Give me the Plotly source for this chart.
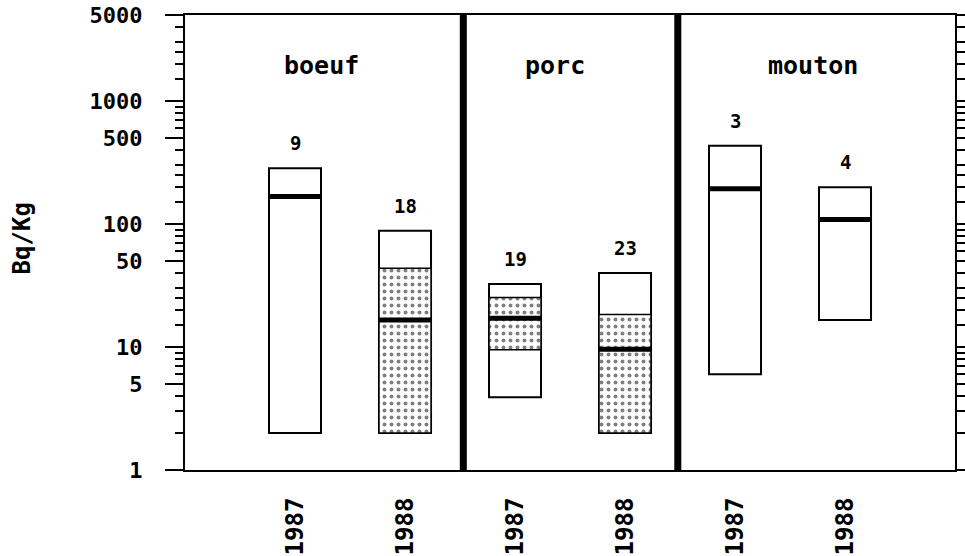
import numpy as np
import plotly.graph_objects as go

# Activity in meat (Bq/Kg), by species and year
groups = ["boeuf", "porc", "mouton"]
years = ["1987", "1988", "1987", "1988", "1987", "1988"]
counts = [9, 18, 19, 23, 3, 4]
v_min = [2.0, 2.0, 3.9, 2.0, 6.0, 16.6]
v_max = [284, 88, 32.5, 40, 433, 199]
v_median = [167, 16.6, 17.1, 9.6, 193, 109]
# dotted band (None where no band is drawn)
band_lo = [None, 2.0, 9.5, 2.0, None, None]
band_hi = [None, 43.6, 25.2, 18.4, None, None]

major_ticks = [1, 5, 10, 50, 100, 500, 1000, 5000]
minor_ticks = [2, 3, 4, 6, 7, 8, 9, 15, 20, 25, 30, 40, 60, 70, 80, 90,
               150, 200, 250, 300, 400, 600, 700, 800, 900,
               1500, 2000, 2500, 3000, 4000]

FONT = "DejaVu Sans Mono"
pos = list(range(len(years)))
bw = 0.473

fig = go.Figure()

# full range boxes
fig.add_trace(go.Bar(
    x=pos, base=v_min, y=[hi - lo for hi, lo in zip(v_max, v_min)],
    width=bw, marker=dict(color="white", line=dict(color="black", width=2)),
    hoverinfo="skip", showlegend=False))

# dotted bands
bx, bbase, by = [], [], []
for p, lo, hi in zip(pos, band_lo, band_hi):
    if lo is not None:
        bx.append(p); bbase.append(lo); by.append(hi - lo)
fig.add_trace(go.Bar(
    x=bx, base=bbase, y=by, width=bw,
    marker=dict(color="white", line=dict(color="black", width=1.5),
                pattern=dict(shape=".", fgcolor="black", bgcolor="white",
                             size=7, solidity=0.25)),
    hoverinfo="skip", showlegend=False))

# median bars
mx, my = [], []
for p, m in zip(pos, v_median):
    mx += [p - bw / 2, p + bw / 2, None]
    my += [m, m, None]
fig.add_trace(go.Scatter(x=mx, y=my, mode="lines",
                         line=dict(color="black", width=5),
                         hoverinfo="skip", showlegend=False))

# invisible trace for the right-hand axis
fig.add_trace(go.Scatter(x=[0], y=[1], yaxis="y2", mode="markers",
                         marker=dict(opacity=0), hoverinfo="skip",
                         showlegend=False))

# counts above each box
for p, n, hi in zip(pos, counts, v_max):
    fig.add_annotation(x=p, y=np.log10(hi), text=str(n), showarrow=False,
                       yshift=25, font=dict(family=FONT, size=19, color="black",
                                            weight="bold"))

# group titles
for gx, g in zip([0.245, 2.36, 4.71], groups):
    fig.add_annotation(x=gx, y=0.89, yref="paper", yanchor="middle",
                       text=g, showarrow=False,
                       font=dict(family=FONT, size=25, color="black",
                                 weight="bold"))

# y-axis title
fig.add_annotation(x=-0.2117, y=0.509, xref="paper", yref="paper",
                   xanchor="center", yanchor="middle",
                   text="Bq/Kg", textangle=-90, showarrow=False,
                   font=dict(family=FONT, size=24, color="black", weight="bold"))

# group separators
for sx in [1.53, 3.48]:
    fig.add_shape(type="line", x0=sx, x1=sx, y0=0, y1=1, xref="x",
                  yref="paper", line=dict(color="black", width=7))

yrange = [0, np.log10(5000)]
fig.update_layout(
    width=965, height=556, margin=dict(l=185, r=10, t=15, b=86),
    plot_bgcolor="white", paper_bgcolor="white", barmode="overlay",
    xaxis=dict(range=[-1, 6], tickvals=pos, ticktext=years, tickangle=-90,
               showgrid=False, zeroline=False, showline=True, mirror=True,
               linecolor="black", linewidth=2, ticks="", automargin=False,
               ticklabelstandoff=16,
               tickfont=dict(family=FONT, size=24, color="black",
                             weight="bold")),
    yaxis=dict(type="log", range=yrange, tickvals=major_ticks,
               ticktext=[str(v) for v in major_ticks], automargin=False,
               showgrid=False, zeroline=False, showline=True,
               linecolor="black", linewidth=2, ticks="outside", ticklen=18,
               tickwidth=2, tickcolor="black", ticklabelstandoff=18,
               tickfont=dict(family=FONT, size=22, color="black",
                             weight="bold"),
               minor=dict(tickvals=minor_ticks, ticks="outside", ticklen=8,
                          tickwidth=2, tickcolor="black", showgrid=False)),
    yaxis2=dict(type="log", range=yrange, overlaying="y", side="right",
                tickvals=major_ticks, showticklabels=False, showgrid=False,
                zeroline=False, showline=True, linecolor="black", linewidth=2,
                ticks="outside", ticklen=8, tickwidth=2, tickcolor="black",
                automargin=False,
                minor=dict(tickvals=minor_ticks, ticks="outside", ticklen=8,
                           tickwidth=2, tickcolor="black", showgrid=False)),
)

fig.write_html("out.html")
